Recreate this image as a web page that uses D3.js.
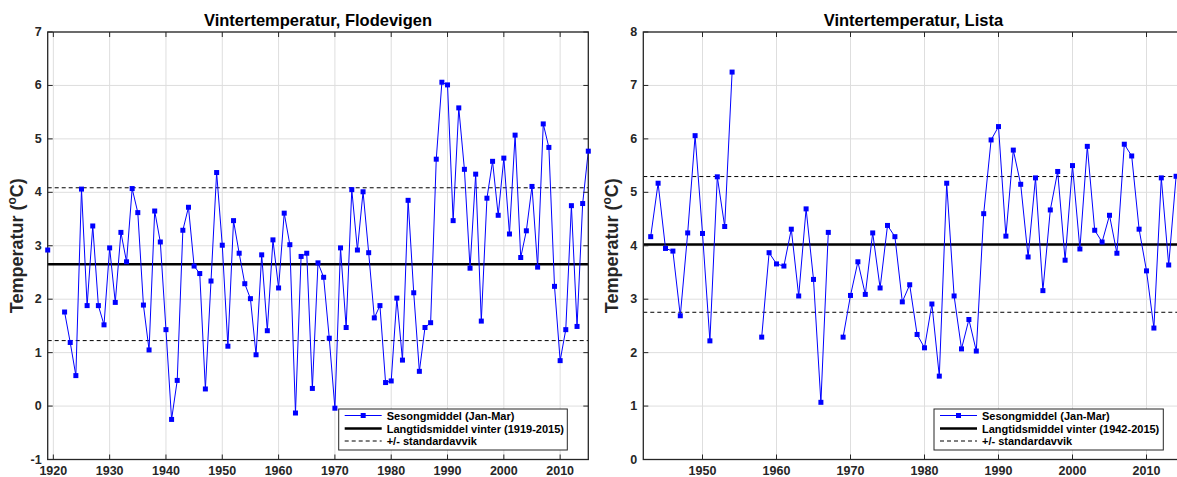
<!DOCTYPE html>
<html>
<head>
<meta charset="utf-8">
<script src="https://cdn.jsdelivr.net/npm/d3@7"></script>
<style>
  html, body { margin: 0; padding: 0; background: #fff; }
  svg { display: block; font-family: "Liberation Sans", Arial, Helvetica, sans-serif; }
</style>
</head>
<body>
<svg id="chart" width="1177" height="477"></svg>
<script>
// ---------- DATA ----------
const flodevigenYears = d3.range(1919, 2016);
const flodevigenValues = [
  2.92, null, null, 1.76, 1.19, 0.57, 4.06, 1.88, 3.37, 1.88,   // 1919-1928
  1.52, 2.96, 1.94, 3.25, 2.70, 4.07, 3.62, 1.89, 1.05, 3.65,   // 1929-1938
  3.07, 1.43, -0.25, 0.48, 3.29, 3.72, 2.62, 2.48, 0.32, 2.34,  // 1939-1948
  4.37, 3.01, 1.12, 3.47, 2.86, 2.29, 2.01, 0.96, 2.83, 1.41,   // 1949-1958
  3.11, 2.21, 3.61, 3.02, -0.13, 2.80, 2.86, 0.33, 2.68, 2.41,  // 1959-1968
  1.27, -0.04, 2.96, 1.47, 4.05, 2.92, 4.01, 2.87, 1.65, 1.88,  // 1969-1978
  0.44, 0.47, 2.02, 0.86, 3.85, 2.12, 0.65, 1.47, 1.56, 4.62,   // 1979-1988
  6.06, 6.01, 3.47, 5.58, 4.43, 2.58, 4.34, 1.59, 3.89, 4.58,   // 1989-1998
  3.57, 4.64, 3.22, 5.07, 2.78, 3.28, 4.11, 2.60, 5.28, 4.84,   // 1999-2008
  2.24, 0.85, 1.43, 3.75, 1.49, 3.79, 4.77                      // 2009-2015
];
const flodevigenMean = 2.655;
const flodevigenStd = 1.43;

const listaYears = d3.range(1943, 2015);
const listaValues = [
  4.17, 5.17, 3.95, 3.90, 2.69, 4.24, 6.06, 4.23, 2.22, 5.29,   // 1943-1952
  4.36, 7.25, null, null, null, 2.29, 3.87, 3.66, 3.62, 4.31,   // 1953-1962
  3.06, 4.69, 3.37, 1.07, 4.25, null, 2.29, 3.07, 3.70, 3.09,   // 1963-1972
  4.24, 3.21, 4.38, 4.17, 2.95, 3.27, 2.34, 2.09, 2.91, 1.56,   // 1973-1982
  5.17, 3.06, 2.07, 2.62, 2.03, 4.60, 5.98, 6.23, 4.18, 5.79,   // 1983-1992
  5.15, 3.79, 5.27, 3.16, 4.67, 5.39, 3.73, 5.50, 3.94, 5.86,   // 1993-2002
  4.29, 4.07, 4.57, 3.86, 5.90, 5.68, 4.31, 3.53, 2.46, 5.27,   // 2003-2012
  3.64, 5.30                                                    // 2013-2014
];
const listaMean = 4.025;
const listaStd = 1.27;

const xTicksLeft = [1920, 1930, 1940, 1950, 1960, 1970, 1980, 1990, 2000, 2010];
const yTicksLeft = [-1, 0, 1, 2, 3, 4, 5, 6, 7];
const xTicksRight = [1950, 1960, 1970, 1980, 1990, 2000, 2010];
const yTicksRight = [0, 1, 2, 3, 4, 5, 6, 7, 8];

const legendLabelsLeft = ["Sesongmiddel (Jan-Mar)", "Langtidsmiddel vinter (1919-2015)", "+/- standardavvik"];
const legendLabelsRight = ["Sesongmiddel (Jan-Mar)", "Langtidsmiddel vinter (1942-2015)", "+/- standardavvik"];

// ---------- DRAWING ----------
const svg = d3.select("#chart");
const axisColor = "#262626";
const gridColor = "#dedede";
const blue = "#0000ff";

function panel(cfg) {
  const g = svg.append("g");
  const x = d3.scaleLinear().domain(cfg.xDomain).range([cfg.left, cfg.right]);
  const y = d3.scaleLinear().domain(cfg.yDomain).range([cfg.bottom, cfg.top]);

  // grid
  g.append("g").selectAll("line.gx").data(cfg.xTicks).join("line")
    .attr("x1", d => x(d)).attr("x2", d => x(d))
    .attr("y1", cfg.top).attr("y2", cfg.bottom)
    .attr("stroke", gridColor).attr("stroke-width", 1);
  g.append("g").selectAll("line.gy").data(cfg.yTicks).join("line")
    .attr("y1", d => y(d)).attr("y2", d => y(d))
    .attr("x1", cfg.left).attr("x2", cfg.right)
    .attr("stroke", gridColor).attr("stroke-width", 1);

  // clip for lines
  const clipId = "clip" + cfg.id;
  svg.append("defs").append("clipPath").attr("id", clipId)
    .append("rect").attr("x", cfg.left).attr("y", cfg.top)
    .attr("width", cfg.right - cfg.left).attr("height", cfg.bottom - cfg.top);
  const dg = g.append("g").attr("clip-path", `url(#${clipId})`);

  // mean & std lines
  dg.append("line").attr("x1", cfg.left).attr("x2", cfg.right)
    .attr("y1", y(cfg.mean)).attr("y2", y(cfg.mean))
    .attr("stroke", "#000").attr("stroke-width", 2.5);
  [cfg.mean + cfg.std, cfg.mean - cfg.std].forEach(v => {
    dg.append("line").attr("x1", cfg.left).attr("x2", cfg.right)
      .attr("y1", y(v)).attr("y2", y(v))
      .attr("stroke", "#000").attr("stroke-width", 1).attr("stroke-dasharray", "4,3");
  });

  // series
  const pts = cfg.years.map((yr, i) => ({ yr, v: cfg.values[i] }));
  const line = d3.line().defined(d => d.v !== null).x(d => x(d.yr)).y(d => y(d.v));
  dg.append("path").datum(pts).attr("d", line)
    .attr("fill", "none").attr("stroke", blue).attr("stroke-width", 1);

  // axes box
  g.append("rect").attr("x", cfg.left).attr("y", cfg.top)
    .attr("width", cfg.right - cfg.left).attr("height", cfg.bottom - cfg.top)
    .attr("fill", "none").attr("stroke", axisColor).attr("stroke-width", 1.3);

  // markers (not clipped, as in MATLAB)
  g.append("g").selectAll("rect.m").data(pts.filter(d => d.v !== null)).join("rect")
    .attr("x", d => x(d.yr) - 2.5).attr("y", d => y(d.v) - 2.5)
    .attr("width", 5).attr("height", 5).attr("fill", blue);

  // ticks inward on all sides
  const tl = 5;
  cfg.xTicks.forEach(t => {
    g.append("line").attr("x1", x(t)).attr("x2", x(t)).attr("y1", cfg.bottom).attr("y2", cfg.bottom - tl)
      .attr("stroke", axisColor);
    g.append("line").attr("x1", x(t)).attr("x2", x(t)).attr("y1", cfg.top).attr("y2", cfg.top + tl)
      .attr("stroke", axisColor);
  });
  cfg.yTicks.forEach(t => {
    g.append("line").attr("y1", y(t)).attr("y2", y(t)).attr("x1", cfg.left).attr("x2", cfg.left + tl)
      .attr("stroke", axisColor);
    g.append("line").attr("y1", y(t)).attr("y2", y(t)).attr("x1", cfg.right).attr("x2", cfg.right - tl)
      .attr("stroke", axisColor);
  });

  // tick labels
  g.append("g").selectAll("text").data(cfg.xTicks).join("text")
    .attr("x", d => x(d)).attr("y", cfg.bottom + 15)
    .attr("text-anchor", "middle").attr("font-size", 12.5).attr("font-weight", "bold")
    .attr("fill", axisColor).text(d => d);
  g.append("g").selectAll("text").data(cfg.yTicks).join("text")
    .attr("x", cfg.left - 6).attr("y", d => y(d) + 4)
    .attr("text-anchor", "end").attr("font-size", 12.5).attr("font-weight", "bold")
    .attr("fill", axisColor).text(d => d);

  // title
  g.append("text").attr("x", (cfg.left + cfg.right) / 2).attr("y", 26)
    .attr("text-anchor", "middle").attr("font-size", 16.5).attr("font-weight", "bold")
    .attr("fill", "#000").text(cfg.title);

  // y label
  const yl = g.append("text")
    .attr("transform", `translate(${cfg.left - 25},${(cfg.top + cfg.bottom) / 2}) rotate(-90)`)
    .attr("text-anchor", "middle").attr("font-size", 18).attr("font-weight", "bold")
    .attr("fill", axisColor);
  yl.append("tspan").text("Temperatur (");
  yl.append("tspan").attr("font-size", 12).attr("dy", -7).text("o");
  yl.append("tspan").attr("dy", 7).text("C)");

  // legend
  const L = cfg.legend;
  g.append("rect").attr("x", L.x).attr("y", L.y).attr("width", L.w).attr("height", L.h)
    .attr("fill", "#fff").attr("stroke", axisColor).attr("stroke-width", 1);
  const rows = [L.y + 6.5, L.y + 19.5, L.y + 32];
  const lx1 = L.x + 6, lx2 = L.x + 43, tx = L.x + 48;
  g.append("line").attr("x1", lx1).attr("x2", lx2).attr("y1", rows[0]).attr("y2", rows[0])
    .attr("stroke", blue).attr("stroke-width", 1);
  g.append("rect").attr("x", (lx1 + lx2) / 2 - 2.5).attr("y", rows[0] - 2.5)
    .attr("width", 5).attr("height", 5).attr("fill", blue);
  g.append("line").attr("x1", lx1).attr("x2", lx2).attr("y1", rows[1]).attr("y2", rows[1])
    .attr("stroke", "#000").attr("stroke-width", 2.5);
  g.append("line").attr("x1", lx1).attr("x2", lx2).attr("y1", rows[2]).attr("y2", rows[2])
    .attr("stroke", "#000").attr("stroke-width", 1).attr("stroke-dasharray", "4,3");
  cfg.legendLabels.forEach((t, i) => {
    g.append("text").attr("x", tx).attr("y", rows[i] + 4)
      .attr("font-size", 11).attr("font-weight", "bold").attr("fill", "#000").text(t);
  });
}

panel({
  id: "L", title: "Vintertemperatur, Flodevigen",
  left: 47.7, right: 588.3, top: 32, bottom: 459.5,
  xDomain: [1919, 2015], yDomain: [-1, 7],
  xTicks: xTicksLeft, yTicks: yTicksLeft,
  years: flodevigenYears, values: flodevigenValues,
  mean: flodevigenMean, std: flodevigenStd,
  legend: { x: 338.7, y: 409, w: 228.6, h: 41 },
  legendLabels: legendLabelsLeft
});

panel({
  id: "R", title: "Vintertemperatur, Lista",
  left: 643.3, right: 1183.5, top: 32, bottom: 459.5,
  xDomain: [1942, 2015], yDomain: [0, 8],
  xTicks: xTicksRight, yTicks: yTicksRight,
  years: listaYears, values: listaValues,
  mean: listaMean, std: listaStd,
  legend: { x: 934, y: 409, w: 229.3, h: 41 },
  legendLabels: legendLabelsRight
});
</script>
</body>
</html>
